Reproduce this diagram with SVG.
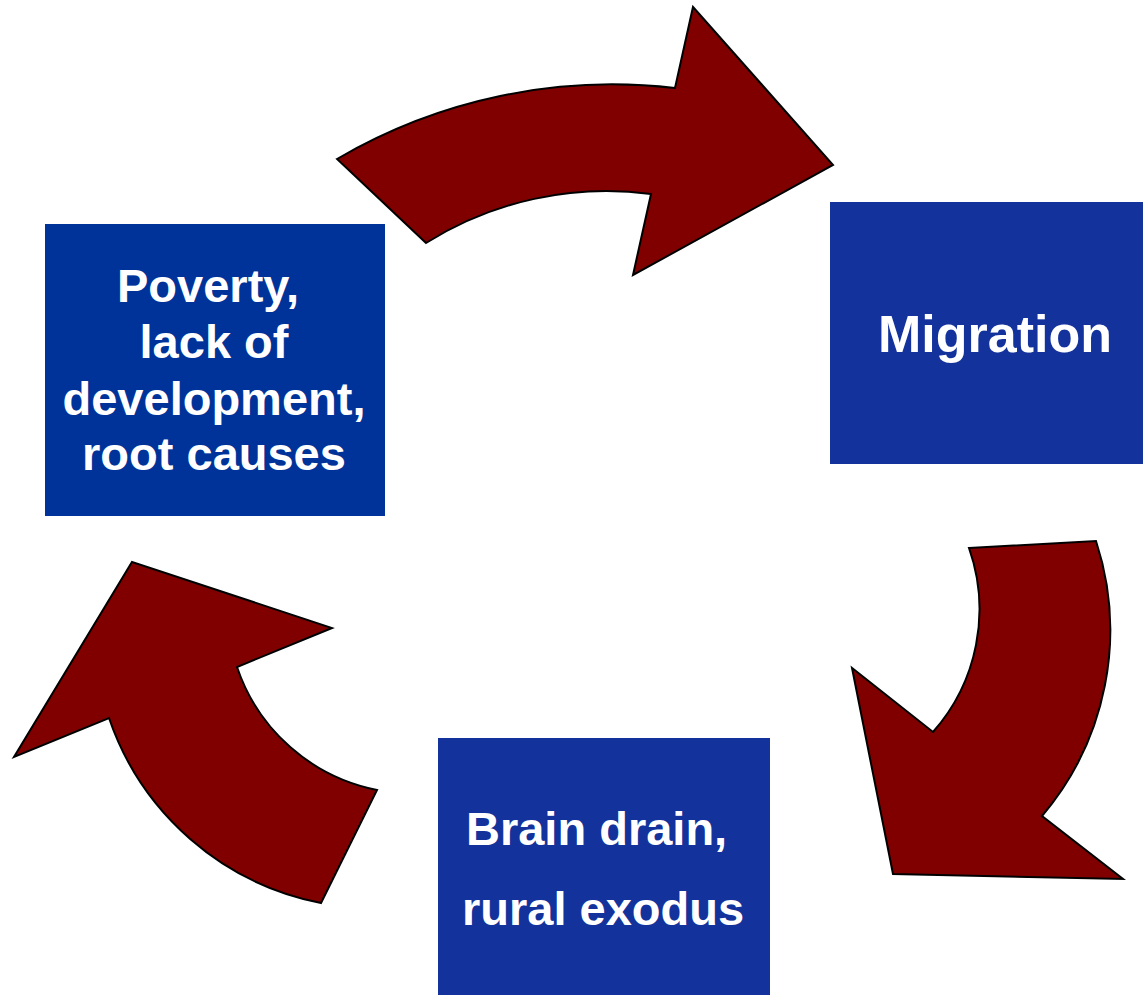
<svg xmlns="http://www.w3.org/2000/svg" width="1143" height="995" viewBox="0 0 1143 995">
<style>
.arrow{fill:#800000;stroke:#000;stroke-width:2;stroke-linejoin:miter}
.lbl{font-family:"Liberation Sans",Arial,sans-serif;font-weight:bold;fill:#fff}
</style>
<rect width="1143" height="995" fill="#fff"/>
<g id="connectors">
<path id="arrow-top" class="arrow" d="M337,159 A545,545 0 0 1 675,88 L693,7 L833,165 L633,275 L651,194 A340,340 0 0 0 426,243 Z"/>
<path id="arrow-right" class="arrow" d="M969,548 L1096,541 A287,287 0 0 1 1042,816 L1123,879 L893,874 L852,668 L933,732 A185,185 0 0 0 969,548 Z"/>
<path id="arrow-left" class="arrow" d="M321,903 L377,790 A186,186 0 0 1 237,667 L332,628 L132,562 L14,757 L109,718 A281,281 0 0 0 321,903 Z"/>
</g>
<g id="node-poverty">
<rect x="45" y="224" width="340" height="292" fill="#003399"/>
<text class="lbl" font-size="47" text-anchor="middle"><tspan x="208" y="302">Poverty,</tspan><tspan x="214" y="358">lack of</tspan><tspan x="214" y="415">development,</tspan><tspan x="214" y="470">root causes</tspan></text>
</g>
<g id="node-migration">
<rect x="830" y="202" width="313" height="262" fill="#13329b"/>
<text class="lbl" font-size="52" x="878" y="352">Migration</text>
</g>
<g id="node-braindrain">
<rect x="438" y="738" width="332" height="257" fill="#13329b"/>
<text class="lbl" font-size="47"><tspan x="466" y="845">Brain drain,</tspan><tspan x="462" y="925">rural exodus</tspan></text>
</g>
</svg>
